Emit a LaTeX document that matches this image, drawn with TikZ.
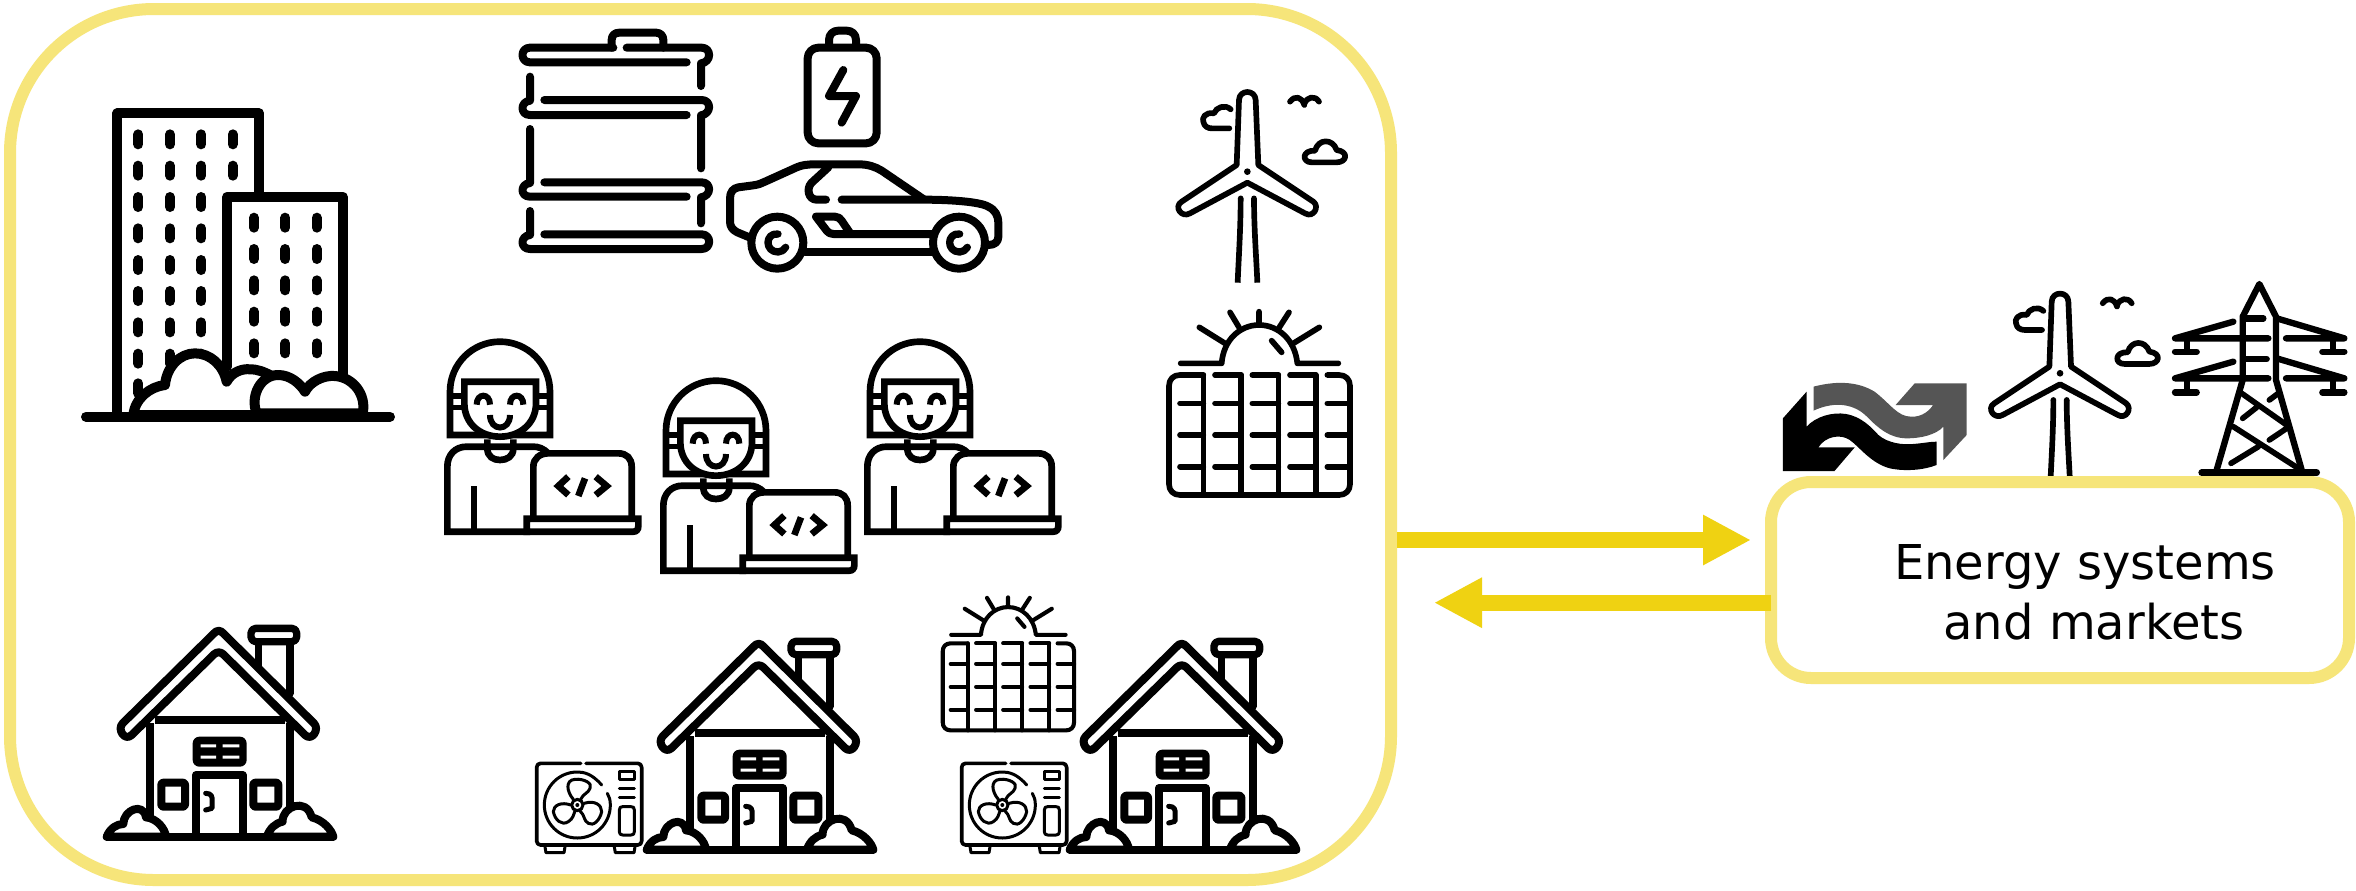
\documentclass[tikz,border=0pt]{standalone}
\usepackage{fontspec}
\setmainfont{DejaVu Sans}
\usetikzlibrary{arrows.meta}
\definecolor{boxy}{HTML}{F6E57A}
\definecolor{arry}{HTML}{EFD212}
\definecolor{logog}{HTML}{555555}
\tikzset{
  ln/.style={line width=#1*\lwu pt},
  rc/.style={rounded corners=#1*\lwu pt},
  ico/.style={line cap=round,line join=round,draw=black},
  yellowbox/.style={draw=boxy,line width=6pt,rectangle},
  flow/.style={draw=arry,line width=8pt,-{Triangle[length=24pt,width=23.5pt]}},
}
\newcommand\icon[5]{\begin{scope}[shift={(#1,#2)},xscale=#3/3,yscale=#4/3,ico]
  \pgfmathsetmacro\lwu{0.5/3*min(#3,#4)}
  #5
\end{scope}}
\newcommand\Building{
  \draw[ln=30] (172,980)--(172,70)--(597,70)--(597,320);
  \draw[ln=30] (502,830)--(502,320)--(848,320)--(848,860);
  \foreach \x in {235,330,424}\foreach \y in {148,242,336,430,525,618,712,806}
    \draw[ln=30] (\x,\y-15)--(\x,\y+15);
  \foreach \y in {148,242} \draw[ln=30] (518,\y-15)--(518,\y+15);
  \draw[ln=30] (235,880)--(235,910);
  \foreach \x in {582,676,770}\foreach \y in {398,492,586,680,775}
    \draw[ln=30] (\x,\y-15)--(\x,\y+15);
  \draw[ln=30,fill=white] (220,975) .. controls (225,925) and (270,890) .. (315,885)
     .. controls (320,830) and (360,790) .. (405,790) .. controls (450,790) and (490,825) .. (500,875)
     .. controls (515,845) and (550,835) .. (570,838) .. controls (595,838) and (610,845) .. (640,860) -- (640,975) -- cycle;
  \draw[ln=30,fill=white] (590,970) .. controls (570,920) and (600,855) .. (655,855)
     .. controls (690,855) and (720,880) .. (735,905) .. controls (750,875) and (790,855) .. (825,858)
     .. controls (880,862) and (920,915) .. (908,970) -- cycle;
  \draw[ln=30] (78,980)--(990,980);
}
\newcommand\Drum{
  \draw[ln=24] (340,113)--(90,113) .. controls (60,113) and (60,157) .. (90,157) -- (560,157);
  \draw[ln=24] (380,113)--(605,113) .. controls (635,113) and (635,157) .. (603,160) -- (603,228);
  \draw[ln=24] (335,113)--(335,90) .. controls (335,75) and (345,68) .. (358,68)--(468,68) .. controls (482,68) and (490,78) .. (490,90)--(490,113);
  \draw[ln=24] (90,200)--(90,272) .. controls (60,275) and (60,315) .. (90,315) -- (560,315);
  \draw[ln=24] (133,270)--(605,270) .. controls (635,270) and (635,312) .. (603,316) -- (603,475);
  \draw[ln=24] (90,357)--(90,519) .. controls (60,522) and (60,560) .. (90,560) -- (560,560);
  \draw[ln=24] (133,517)--(605,517) .. controls (635,517) and (635,558) .. (603,562) -- (603,640);
  \draw[ln=24] (90,603)--(90,675) .. controls (60,678) and (60,717) .. (90,717) -- (605,717)
     .. controls (635,717) and (635,673) .. (605,673) -- (133,673);
}
\newcommand\Battery{
  \draw[ln=24,rc=32] (923,113) rectangle (1130,400);
  \draw[ln=24] (987,105)--(987,90) .. controls (987,72) and (1000,62) .. (1015,62)--(1040,62) .. controls (1055,62) and (1068,72) .. (1068,90)--(1068,105);
  \draw[ln=24] (1030,180)--(987,258)--(1068,258)--(1025,338);
}
\newcommand\Car{
  \draw[ln=24] (748,682)--(712,667) .. controls (698,660) and (690,650) .. (690,635) -- (690,565) .. controls (690,545) and (700,535) .. (715,532)
    -- (760,526) .. controls (775,524) and (785,520) .. (795,515) -- (890,472) .. controls (905,465) and (925,463) .. (945,463)
    -- (1075,463) .. controls (1105,463) and (1125,470) .. (1145,482) -- (1270,567);
  \draw[ln=24] (1025,569) -- (1270,569) .. controls (1350,569) and (1440,575) .. (1465,590)
     .. controls (1485,600) and (1495,615) .. (1495,640) -- (1495,680) .. controls (1495,695) and (1485,705) .. (1465,705);
  \draw[ln=24] (985,472) -- (935,518) .. controls (918,535) and (925,569) .. (950,569) -- (978,569);
  \draw[ln=24] (1300,672)--(1000,672) .. controls (990,672) and (985,668) .. (980,662) -- (948,620)--(1005,620) .. controls (1015,620) and (1020,625) .. (1025,632) -- (1052,672);
  \draw[ln=24] (915,725)--(1295,725);
  \foreach \c in {832,1377}{
    \draw[ln=24,fill=white] (\c,698) circle[radius=78];
    \draw[ln=22] (\c+2,672) .. controls (\c-38,668) and (\c-38,726) .. (\c+2,726) .. controls (\c+12,726) and (\c+20,720) .. (\c+25,712);
  }
}
\newcommand\Turbine{
  \draw[ln=17] (290,255)--(297,60) .. controls (298,28) and (346,28) .. (347,60) -- (355,255)
     -- (520,365) .. controls (540,380) and (520,415) .. (495,400) -- (322,308) -- (150,400)
     .. controls (125,415) and (100,380) .. (125,365) -- cycle;
  \fill (322,275) circle[radius=10];
  \draw[ln=17,line cap=butt] (302,355) .. controls (302,450) and (295,550) .. (293,608);
  \draw[ln=17,line cap=butt] (342,355) .. controls (342,450) and (350,550) .. (352,608);
  \fill (302,355) circle[radius=8.5] (342,355) circle[radius=8.5];
  \draw[ln=17] (272,88) .. controls (255,72) and (228,82) .. (222,100) .. controls (195,95) and (185,115) .. (190,125) .. controls (192,140) and (205,145) .. (215,145) -- (268,145);
  \draw[ln=17] (450,65) .. controls (465,45) and (485,50) .. (493,75);
  \draw[ln=17] (493,72) .. controls (500,50) and (525,45) .. (537,65);
  \draw[ln=17] (515,247) -- (590,247) .. controls (620,247) and (628,215) .. (590,210)
     .. controls (578,175) and (535,175) .. (525,212) .. controls (485,210) and (485,247) .. (515,247) -- cycle;
}
\newcommand\Panel{
  \draw[ln=17] (190,885)--(120,885) .. controls (100,885) and (87,898) .. (87,918) -- (87,1212)
     .. controls (87,1232) and (100,1245) .. (120,1245) -- (597,1245) .. controls (617,1245) and (630,1232) .. (630,1212)
     -- (630,918) .. controls (630,898) and (617,885) .. (597,885) -- (562,885);
  \foreach \x in {190,303,415,527} \draw[ln=17] (\x,885)--(\x,1245);
  \foreach \a/\b in {225/303,337/415,450/527} \draw[ln=17] (\a,885)--(\b,885);
  \foreach \y in {970,1065,1160}\foreach \a/\b in {120/190,225/303,337/415,450/527,562/630}
    \draw[ln=17] (\a,\y)--(\b,\y);
  \draw[ln=17] (122,850)--(245,850) .. controls (250,780) and (300,735) .. (357,735)
     .. controls (415,735) and (465,780) .. (472,850) -- (595,850);
  \draw[ln=17] (178,742)--(255,790) (270,697)--(297,742) (357,695)--(357,735) (447,697)--(418,742) (538,742)--(460,790) (395,782)--(425,817);
}
\newcommand\Person{
  \begin{scope}[line cap=butt,line join=miter]
  \draw[ln=20] (60,215) .. controls (60,132) and (127,65) .. (210,65) .. controls (293,65) and (360,132) .. (360,215) -- (360,345) -- (60,345) -- cycle;
  \draw[ln=16] (60,228)--(103,228) (60,262)--(103,262) (318,228)--(360,228) (318,262)--(360,262);
  \draw[ln=20,fill=white] (103,185)--(103,250) .. controls (103,310) and (150,350) .. (210,350) .. controls (270,350) and (318,310) .. (318,250) -- (318,185) -- cycle;
  \draw[ln=18] (140,254) .. controls (140,218) and (180,218) .. (180,254);
  \draw[ln=18] (240,254) .. controls (240,218) and (280,218) .. (280,254);
  \draw[ln=18] (180,285) .. controls (180,335) and (240,335) .. (240,285);
  \draw[ln=20] (172,358)--(172,385) .. controls (172,410) and (190,420) .. (210,420) .. controls (230,420) and (250,410) .. (250,385) -- (250,358);
  \draw[ln=20] (355,400) .. controls (340,385) and (325,380) .. (310,380) -- (110,380) .. controls (75,380) and (52,405) .. (52,440) -- (52,635) -- (300,635);
  \draw[ln=20] (132,498)--(132,635);
  \draw[ln=20,fill=white] (310,600) -- (310,440) .. controls (310,415) and (330,400) .. (355,400) -- (565,400) .. controls (590,400) and (605,415) .. (605,440) -- (605,600);
  \draw[ln=20,fill=white] (290,596)--(625,596)--(625,618) .. controls (625,628) and (620,635) .. (610,635) -- (290,635) -- cycle;
  \draw[ln=20] (415,470)--(385,498)--(415,525) (497,470)--(530,498)--(497,525) (465,475)--(445,528);
  \end{scope}
}
\newcommand\House{
  \draw[ln=22] (505,100)--(505,170) (600,100)--(600,250);
  \draw[ln=22,fill=white,rc=14] (483,55) rectangle (620,95);
  \draw[ln=24,fill=white] (372,70) .. controls (380,60) and (392,60) .. (400,70) -- (672,340) .. controls (690,358) and (665,395) .. (645,375)
     -- (400,133) .. controls (392,125) and (380,125) .. (372,133) -- (125,375) .. controls (105,395) and (80,358) .. (98,340) -- cycle;
  \draw[ln=24,line cap=butt] (180,340)--(180,640) (600,340)--(600,640) (195,331)--(585,331);
  \fill[rc=20] (308,380) rectangle (470,470);
  \fill[white] (332,403) rectangle (378,412) (398,403) rectangle (448,412) (332,437) rectangle (378,446) (398,437) rectangle (448,446);
  \draw[ln=24,line cap=butt,line join=round] (318,680)--(318,495)--(458,495)--(458,680);
  \draw[ln=15] (347,550) .. controls (365,550) and (368,560) .. (366,575) -- (366,595) -- (347,600);
  \draw[ln=24,rc=6] (214,518) rectangle (285,590);
  \draw[ln=24,rc=6] (490,518) rectangle (565,590);
  \draw[ln=24,fill=white] (50,680) .. controls (60,655) and (80,642) .. (100,642) .. controls (100,600) and (160,575) .. (168,622) .. controls (200,625) and (225,655) .. (228,680) -- cycle;
  \draw[ln=24,fill=white] (530,680) .. controls (540,655) and (555,640) .. (578,635) .. controls (575,590) and (650,560) .. (665,622) .. controls (700,630) and (725,660) .. (730,680) -- cycle;
  \draw[ln=24] (50,680)--(730,680);
}
\newcommand\ACunit{
  \draw[ln=11] (182,40)--(62,40) .. controls (55,40) and (50,45) .. (50,52) -- (50,273) .. controls (50,280) and (55,285) .. (62,285) -- (353,285)
     .. controls (360,285) and (365,280) .. (365,273) -- (365,52) .. controls (365,45) and (360,40) .. (353,40) -- (198,40);
  \draw[ln=9] (245,105) .. controls (215,70) and (190,66) .. (172,66) .. controls (117,66) and (73,110) .. (73,165)
     .. controls (73,220) and (117,264) .. (172,264) .. controls (227,264) and (271,220) .. (271,165) .. controls (271,150) and (268,140) .. (262,130);
  \draw[ln=9,fill=white] (172,165) circle[radius=17];
  \fill (172,165) circle[radius=6];
  \draw[ln=9] (160,148) .. controls (140,125) and (135,90) .. (165,88) .. controls (190,85) and (220,100) .. (210,115) .. controls (205,130) and (190,130) .. (182,148);
  \draw[ln=9] (152,165) .. controls (125,155) and (100,165) .. (100,185) .. controls (105,210) and (125,228) .. (145,215) .. controls (160,205) and (160,195) .. (165,183);
  \draw[ln=9] (192,160) .. controls (225,150) and (245,165) .. (245,185) .. controls (240,210) and (220,230) .. (205,220) .. controls (190,212) and (195,195) .. (180,183);
  \draw[ln=9] (298,65) rectangle (343,88) (298,115)--(343,115) (298,142)--(343,142);
  \draw[ln=9] (298,180) .. controls (298,172) and (302,170) .. (308,170) -- (333,170) .. controls (340,170) and (343,172) .. (343,180) -- (343,245) .. controls (343,252) and (340,255) .. (333,255) -- (308,255) .. controls (302,255) and (298,252) .. (298,245) -- cycle;
  \draw[ln=9] (75,290) -- (78,308) -- (132,308) -- (135,290) (283,290) -- (286,308) -- (342,308) -- (345,290);
}
\newcommand\Logo{
  \fill[logog] (140,350) .. controls (190,335) and (250,330) .. (300,365) .. controls (340,400) and (360,440) .. (395,440)
     .. controls (425,442) and (445,420) .. (453,405) -- (355,405) -- (405,340) -- (541,340) -- (541,495) -- (480,570) -- (480,470)
     .. controls (460,495) and (420,505) .. (385,505) .. controls (340,505) and (310,475) .. (280,440) .. controls (250,405) and (200,390) .. (140,422) -- cycle;
  \fill[black] (122,365) -- (122,470) .. controls (145,440) and (190,425) .. (225,432) .. controls (265,440) and (290,470) .. (310,495)
     .. controls (335,520) and (375,525) .. (400,522) .. controls (425,520) and (445,515) .. (462,515) -- (462,585)
     .. controls (430,600) and (380,605) .. (340,595) .. controls (290,580) and (260,530) .. (235,510) .. controls (210,490) and (170,500) .. (153,532)
     -- (248,532) -- (195,603) -- (60,603) -- (60,445) -- cycle;
}
\newcommand\Pylon{
  \draw[ln=19] (200,600)--(278,330)--(278,140)--(328,42)--(378,140)--(378,330)--(455,600);
  \draw[ln=19] (290,145)--(340,145) (290,267)--(350,267);
  \draw[ln=19] (250,155)--(75,205)--(355,205) (250,275)--(75,325)--(355,325);
  \draw[ln=19] (380,145)--(583,205)--(408,205) (380,265)--(583,325)--(408,325);
  \draw[ln=19] (110,205)--(110,245) (75,245)--(140,245) (110,325)--(110,367) (75,367)--(140,367);
  \draw[ln=19] (548,205)--(548,245) (517,245)--(583,245) (548,325)--(548,367) (517,367)--(583,367);
  \draw[ln=17] (275,370)--(410,465) (250,470)--(445,595) (410,475)--(358,510) (385,370)--(358,390) (320,412)--(278,445) (325,530)--(243,580);
  \draw[ln=20] (155,608)--(500,608);
}
\begin{document}
\begin{tikzpicture}[x=0.5pt,y=-0.5pt]
\path[use as bounding box,fill=white] (0,0) rectangle (2356,890);
% icons
\icon{60}{90}{1}{1}{\Building}
\icon{500}{10}{1}{1}{\Drum}
\icon{500}{10}{1}{1}{\Battery}
\icon{500}{10}{1}{1}{\Car}
\icon{1140}{80}{1}{1}{\Turbine}
\icon{1140}{80}{1}{1}{\Panel}
\icon{430}{320}{1}{1}{\Person}
\icon{646}{359}{1}{1}{\Person}
\icon{850}{320}{1}{1}{\Person}
\icon{90}{610}{1}{1}{\House}
\icon{630}{623}{1}{1}{\House}
\icon{1053}{623}{1}{1}{\House}
\icon{520}{750}{1}{1}{\ACunit}
\icon{945}{750}{1}{1}{\ACunit}
\icon{921.7}{429.3}{0.7255}{0.7255}{\Panel}
\icon{1760}{270}{1.146}{1}{\Logo}
\icon{1952.7}{281.6}{1}{1}{\Turbine}
\icon{2150}{270}{1}{1}{\Pylon}
% boxes
\node[yellowbox,rounded corners=72pt,minimum width=690.5pt,minimum height=435.5pt] (sys) at (700.5,444.5) {};
\node[yellowbox,rounded corners=20pt,outer sep=0pt,minimum width=289pt,minimum height=98pt] (mkt) at (2060,580) {};
\node[font=\fontsize{24}{30}\selectfont,align=center,inner sep=0pt] (lab) at (2085,592) {Energy systems\\\hspace*{9pt}and markets};
% arrows
\coordinate (t1) at (1751,540);
\coordinate (t2) at (1434,602.7);
\draw[flow] (sys.east |- t1) -- (t1);
\draw[flow] (mkt.west |- t2) -- (t2);
\end{tikzpicture}
\end{document}
